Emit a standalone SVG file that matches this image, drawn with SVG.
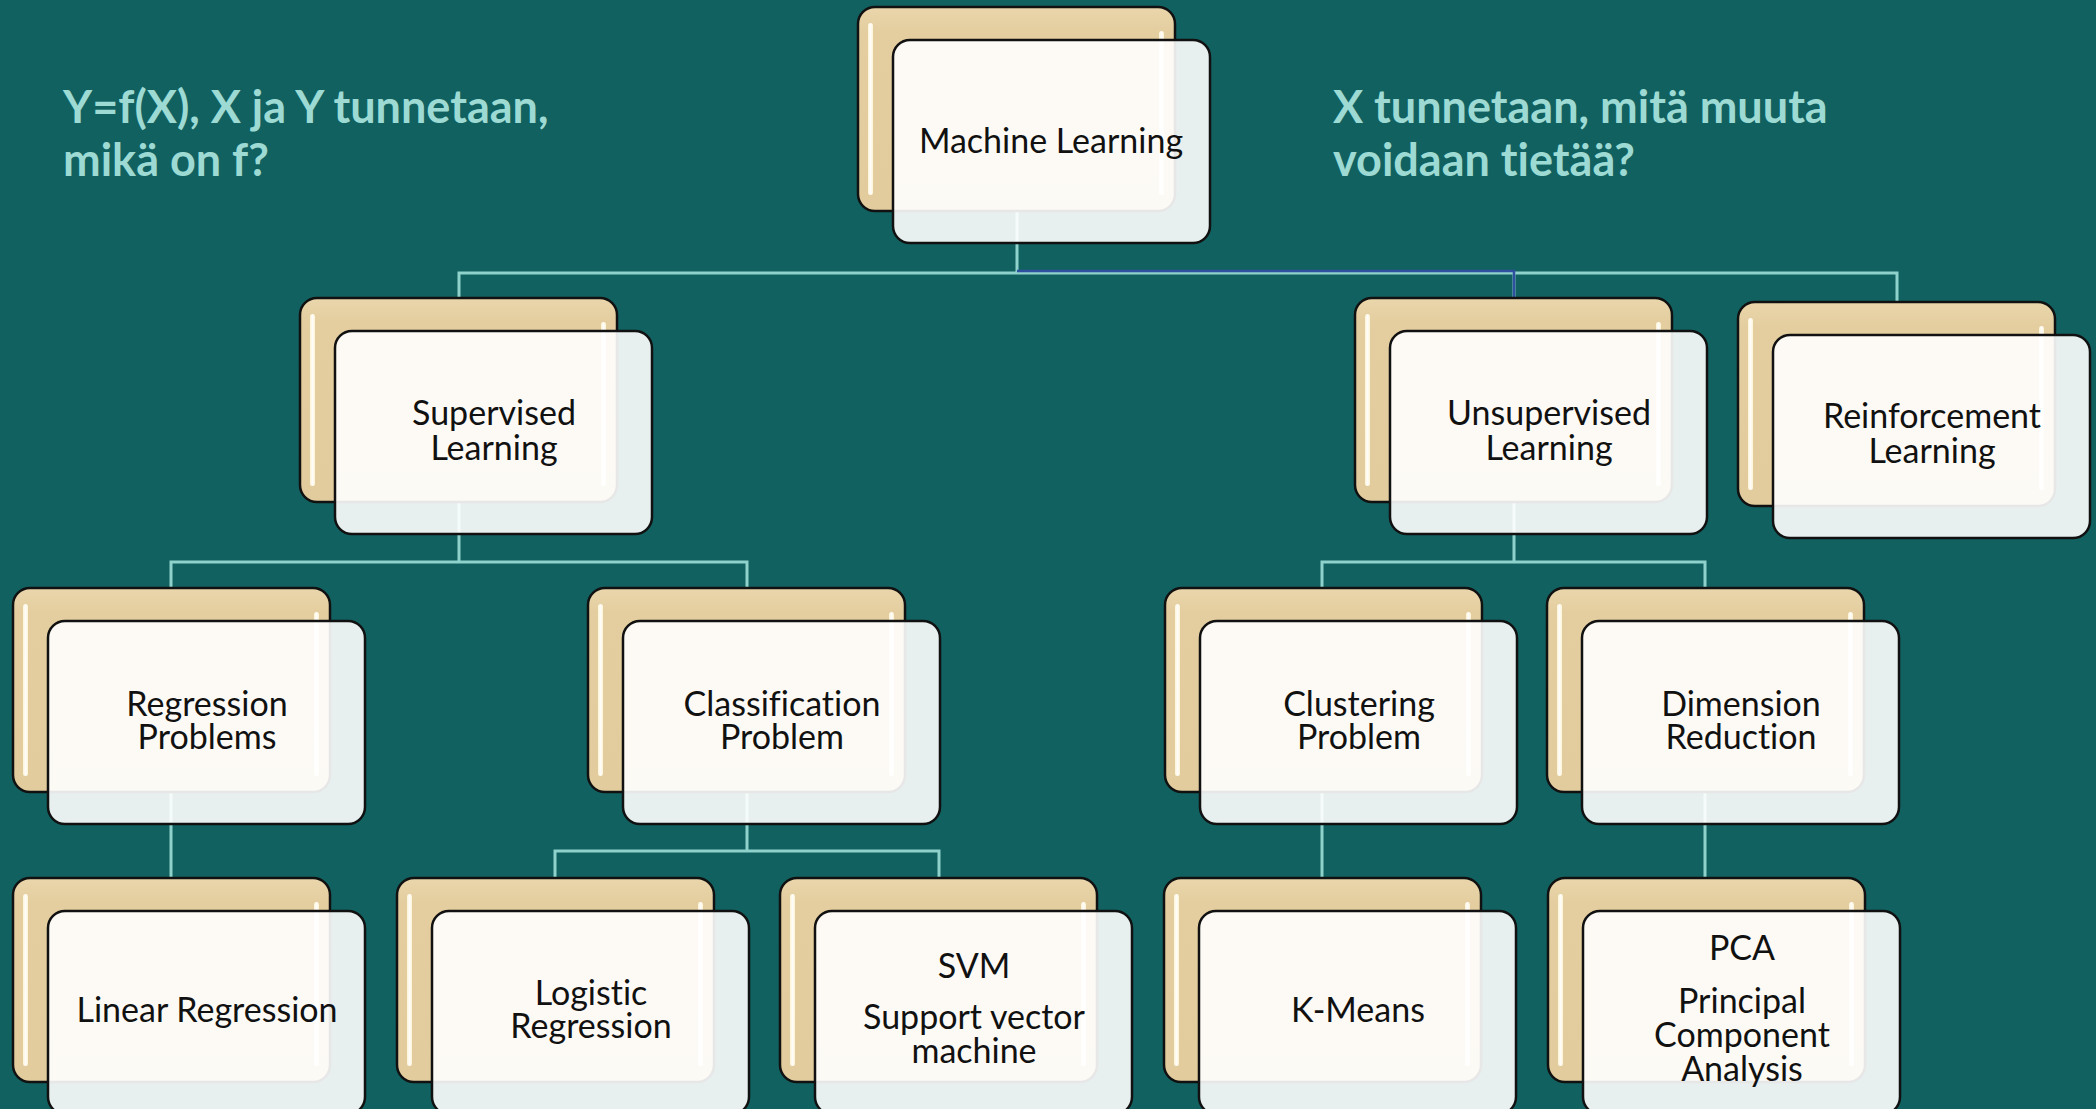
<svg xmlns="http://www.w3.org/2000/svg" width="2096" height="1109" viewBox="0 0 2096 1109">
<defs>
<linearGradient id="tan" x1="0" y1="0" x2="0" y2="1">
<stop offset="0" stop-color="#ead6ab"/>
<stop offset="0.12" stop-color="#e4cea0"/>
<stop offset="1" stop-color="#e2cb9c"/>
</linearGradient>
<linearGradient id="gloss" x1="0" y1="0" x2="1" y2="0">
<stop offset="0" stop-color="#fff6d8"/>
<stop offset="0.5" stop-color="#ffffff"/>
<stop offset="1" stop-color="#fff6d8"/>
</linearGradient>
<g id="box">
<rect class="back" x="0" y="0" width="317" height="204" rx="17"/>
<rect class="hl" x="10" y="16" width="5" height="172" rx="2.5"/>
<rect class="hl" x="301" y="24" width="5" height="164" rx="2.5"/>
<rect class="front" x="35" y="33" width="317" height="203" rx="17"/>
</g>
</defs>
<style>
.back{fill:url(#tan);stroke:#111;stroke-width:2.5}
.hl{fill:url(#gloss);opacity:0.95}
.front{fill:#ffffff;fill-opacity:0.9;stroke:#111;stroke-width:2.5}
.conn{fill:none;stroke:#8ed2cb;stroke-width:3}
.sel{fill:none;stroke:#2f4f9f;stroke-width:2.5}
.t{font-family:Lato,"Liberation Sans",sans-serif;font-size:34px;fill:#111;text-anchor:middle;font-variant-ligatures:none}
.title{font-family:Lato,"Liberation Sans",sans-serif;font-size:45px;font-weight:bold;fill:#9cdad3;font-variant-ligatures:none}
</style>
<rect width="2096" height="1109" fill="#126161"/>
<text class="title" x="63" y="123">Y=f(X), X ja Y tunnetaan,</text>
<text class="title" x="63" y="176">mikä on f?</text>
<text class="title" x="1333" y="123">X tunnetaan, mitä muuta</text>
<text class="title" x="1333" y="176">voidaan tietää?</text>
<g id="connectors">
<path class="conn" d="M1017,210 V273 M459,298 V273 H1897 V302 M1514,273 V298"/>
<path class="sel" d="M1017,271 H1514 V298"/>
<path class="conn" d="M459,502 V562 M171,588 V562 H747 V588"/>
<path class="conn" d="M1514,502 V562 M1322,588 V562 H1705 V588"/>
<path class="conn" d="M171,791 V878"/>
<path class="conn" d="M747,791 V851 M555,878 V851 H939 V878"/>
<path class="conn" d="M1322,791 V878"/>
<path class="conn" d="M1705,791 V878"/>
</g>
<g id="node-ml"><use href="#box" x="858" y="7"/><text class="t" x="1051" y="153">Machine Learning</text></g>
<g id="node-supervised"><use href="#box" x="300" y="298"/><text class="t" x="494" y="425">Supervised</text><text class="t" x="494" y="460">Learning</text></g>
<g id="node-unsupervised"><use href="#box" x="1355" y="298"/><text class="t" x="1549" y="425">Unsupervised</text><text class="t" x="1549" y="460">Learning</text></g>
<g id="node-reinforcement"><use href="#box" x="1738" y="302"/><text class="t" x="1932" y="428">Reinforcement</text><text class="t" x="1932" y="463">Learning</text></g>
<g id="node-regression"><use href="#box" x="13" y="588"/><text class="t" x="207" y="716">Regression</text><text class="t" x="207" y="749">Problems</text></g>
<g id="node-classification"><use href="#box" x="588" y="588"/><text class="t" x="782" y="716">Classification</text><text class="t" x="782" y="749">Problem</text></g>
<g id="node-clustering"><use href="#box" x="1165" y="588"/><text class="t" x="1359" y="716">Clustering</text><text class="t" x="1359" y="749">Problem</text></g>
<g id="node-dimension"><use href="#box" x="1547" y="588"/><text class="t" x="1741" y="716">Dimension</text><text class="t" x="1741" y="749">Reduction</text></g>
<g id="node-linear"><use href="#box" x="13" y="878"/><text class="t" x="207" y="1022">Linear Regression</text></g>
<g id="node-logistic"><use href="#box" x="397" y="878"/><text class="t" x="591" y="1005">Logistic</text><text class="t" x="591" y="1038">Regression</text></g>
<g id="node-svm"><use href="#box" x="780" y="878"/><text class="t" x="974" y="978">SVM</text><text class="t" x="974" y="1029">Support vector</text><text class="t" x="974" y="1063">machine</text></g>
<g id="node-kmeans"><use href="#box" x="1164" y="878"/><text class="t" x="1358" y="1022">K-Means</text></g>
<g id="node-pca"><use href="#box" x="1548" y="878"/><text class="t" x="1742" y="960">PCA</text><text class="t" x="1742" y="1013">Principal</text><text class="t" x="1742" y="1047">Component</text><text class="t" x="1742" y="1081">Analysis</text></g>
</svg>
